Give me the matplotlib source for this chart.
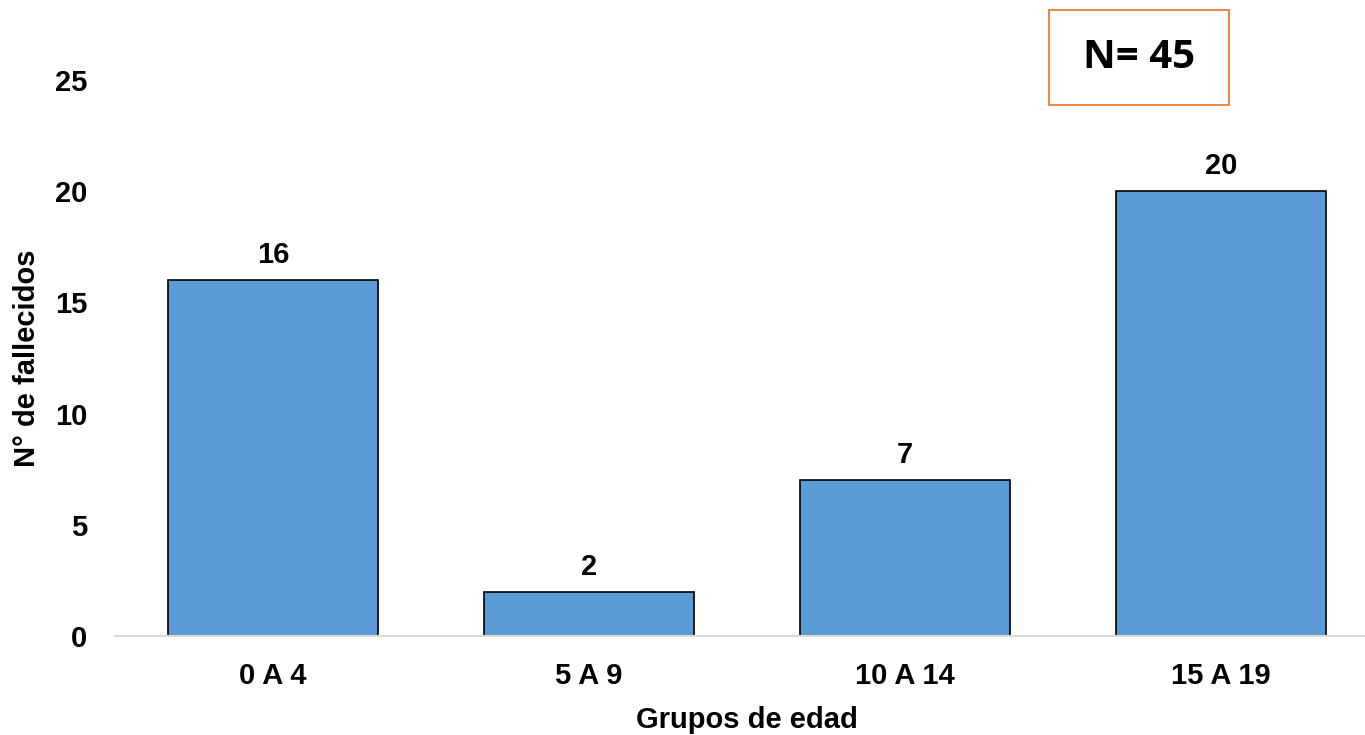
import matplotlib.pyplot as plt
from matplotlib.patches import Rectangle

grupos = ["0 A 4", "5 A 9", "10 A 14", "15 A 19"]
fallecidos = [16, 2, 7, 20]
total_label = "N= 45"

plt.rcParams['font.family'] = ['Liberation Sans', 'DejaVu Sans']

fig = plt.figure(figsize=(13.65, 7.35), dpi=100)
W, H = 1365, 735
# axes in pixel coords: left 115, right 1379, y0 at 636, y25 at 80
ax = fig.add_axes([115 / W, (H - 636) / H, 1264 / W, (636 - 80) / H])

x = range(len(grupos))
ax.bar(x, fallecidos, width=0.665, color="#5B9BD5", edgecolor="black", linewidth=1.2)
for xi, v in zip(x, fallecidos):
    ax.text(xi, v + 0.76, str(v), ha="center", va="baseline", fontsize=21, fontweight="bold")

ax.set_xlim(-0.5, 3.5)
ax.set_ylim(0, 25)
ax.set_yticks([0, 5, 10, 15, 20, 25])
ax.set_xticks(list(x))
ax.set_xticklabels(grupos)
ax.tick_params(axis="both", length=0, labelsize=21)
ax.tick_params(axis="y", pad=20)
ax.tick_params(axis="x", pad=19)
for lbl in ax.get_xticklabels() + ax.get_yticklabels():
    lbl.set_fontweight("bold")

for s in ["top", "right", "left"]:
    ax.spines[s].set_visible(False)
ax.spines["bottom"].set_color("#D9D9D9")
ax.spines["bottom"].set_linewidth(1.5)

ax.set_ylabel("N° de fallecidos", fontsize=21, fontweight="bold", labelpad=10)
ax.set_xlabel("Grupos de edad", fontsize=21, fontweight="bold", labelpad=11)

box = Rectangle((1049 / W, (H - 105) / H), 180 / W, 95 / H, transform=fig.transFigure,
                facecolor="white", edgecolor="#ED7D31", linewidth=1.3)
fig.patches.append(box)
fig.text(1139 / W, (H - 68) / H, total_label, ha="center", va="baseline",
         fontsize=29, fontweight="bold", family=["Open Sans", "DejaVu Sans"])

fig.savefig("out.png", dpi=100)
